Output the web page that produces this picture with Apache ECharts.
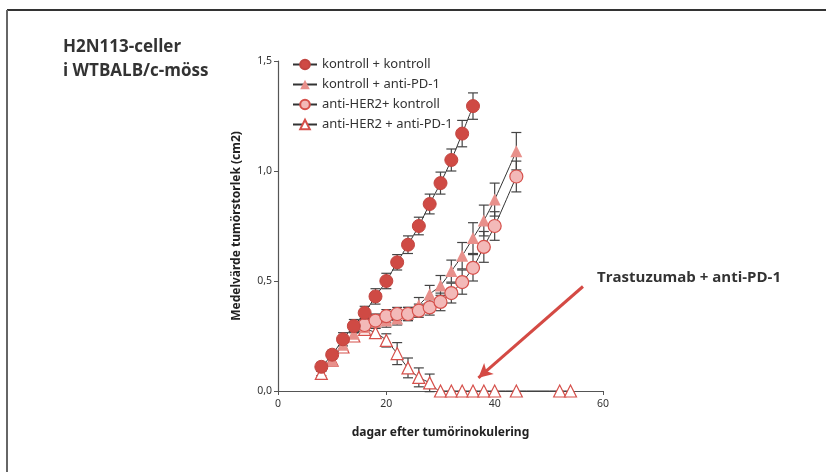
<!DOCTYPE html>
<html>
<head>
<meta charset="utf-8">
<script src="https://cdn.jsdelivr.net/npm/echarts@6/dist/echarts.min.js"></script>
<style>
    html, body { margin: 0; padding: 0; background: #fff; }
    #chart { width: 826px; height: 472px; }
</style>
</head>
<body>
<div id="chart"></div>
<script>
    // kontroll + kontroll
    var daysKK = [8, 10, 12, 14, 16, 18, 20, 22, 24, 26, 28, 30, 32, 34, 36];
    var valKK = [0.11, 0.165, 0.235, 0.295, 0.355, 0.43, 0.50, 0.585, 0.665, 0.75, 0.85, 0.945, 1.05, 1.17, 1.295];
    var errKK = [0.02, 0.02, 0.03, 0.03, 0.03, 0.035, 0.035, 0.035, 0.04, 0.04, 0.045, 0.05, 0.05, 0.06, 0.06];

    // kontroll + anti-PD-1
    var daysKP = [10, 12, 14, 16, 18, 20, 22, 24, 26, 28, 30, 32, 34, 36, 38, 40, 44];
    var valKP = [0.14, 0.21, 0.26, 0.29, 0.315, 0.32, 0.33, 0.35, 0.39, 0.44, 0.48, 0.545, 0.615, 0.695, 0.775, 0.87, 1.09];
    var errKP = [0.02, 0.02, 0.03, 0.03, 0.03, 0.03, 0.03, 0.03, 0.035, 0.04, 0.045, 0.05, 0.06, 0.07, 0.07, 0.075, 0.085];

    // anti-HER2 + kontroll
    var daysHK = [16, 18, 20, 22, 24, 26, 28, 30, 32, 34, 36, 38, 40, 44];
    var valHK = [0.30, 0.32, 0.34, 0.35, 0.35, 0.365, 0.38, 0.405, 0.445, 0.495, 0.56, 0.655, 0.75, 0.975];
    var errHK = [0.03, 0.03, 0.03, 0.03, 0.03, 0.03, 0.035, 0.04, 0.045, 0.055, 0.06, 0.07, 0.065, 0.07];

    // anti-HER2 + anti-PD-1
    var daysHP = [8, 10, 12, 14, 16, 18, 20, 22, 24, 26, 28, 30, 32, 34, 36, 38, 40, 44, 52, 54];
    var valHP = [0.08, 0.14, 0.2, 0.25, 0.28, 0.265, 0.23, 0.17, 0.105, 0.062, 0.037, 0, 0, 0, 0, 0, 0, 0, 0, 0];
    var errHP = [0.01, 0.02, 0.02, 0.02, 0.02, 0.02, 0.03, 0.05, 0.045, 0.043, 0.04, 0, 0, 0, 0, 0, 0, 0, 0, 0];

    var seriesNames = ['kontroll + kontroll', 'kontroll + anti-PD-1', 'anti-HER2+ kontroll', 'anti-HER2 + anti-PD-1'];
    var xTicks = [0, 20, 40, 60];
    var yTicks = [0, 0.5, 1.0, 1.5];

    var red = '#cf4a44';
    var pinkTri = '#e8908b';
    var pinkFill = '#f3b9b8';
    var border = '#d6504b';

    function pairs(days, vals) {
        return days.map(function (d, i) { return [d, vals[i]]; });
    }
    function errData(days, vals, errs) {
        var out = [];
        days.forEach(function (d, i) {
            if (errs[i] > 0) out.push([d, vals[i] - errs[i], vals[i] + errs[i]]);
        });
        return out;
    }

    function errSeries(data) {
        return {
            type: 'custom',
            z: 1,
            silent: true,
            data: data,
            renderItem: function (params, api) {
                var top = api.coord([api.value(0), api.value(2)]);
                var bot = api.coord([api.value(0), api.value(1)]);
                var w = 5;
                var style = { stroke: '#444', lineWidth: 1.2 };
                return {
                    type: 'group',
                    children: [
                        { type: 'line', shape: { x1: top[0], y1: top[1], x2: bot[0], y2: bot[1] }, style: style },
                        { type: 'line', shape: { x1: top[0] - w, y1: top[1], x2: top[0] + w, y2: top[1] }, style: style },
                        { type: 'line', shape: { x1: bot[0] - w, y1: bot[1], x2: bot[0] + w, y2: bot[1] }, style: style }
                    ]
                };
            }
        };
    }

    function lineSeries(name, data, symbol, size, fill, stroke, bw, z) {
        return {
            name: name,
            type: 'line',
            data: data,
            smooth: 0.3,
            z: z,
            symbol: symbol,
            symbolSize: size,
            showAllSymbol: true,
            lineStyle: { color: '#333', width: 1 },
            itemStyle: { color: fill, borderColor: stroke, borderWidth: bw, opacity: 1 },
            emphasis: { disabled: true }
        };
    }

    var hpLine = lineSeries(seriesNames[3], pairs(daysHP, valHP), 'triangle', 12, '#fff', border, 1.2, 3);
    hpLine.clip = false;
    hpLine.markLine = {
        silent: true,
        symbol: ['none', 'arrow'],
        symbolSize: [11, 14],
        label: { show: false },
        lineStyle: { color: '#d44a44', width: 3, type: 'solid' },
        data: [[{ coord: [56.3, 0.475] }, { coord: [37, 0.06] }]]
    };

    var chart = echarts.init(document.getElementById('chart'));
    chart.setOption({
        animation: false,
        textStyle: { fontFamily: 'Noto Sans' },
        grid: { left: 278, right: 223, top: 61, bottom: 81 },
        legend: {
            data: seriesNames,
            orient: 'vertical',
            left: 287,
            top: 53,
            itemWidth: 24,
            itemHeight: 12,
            itemGap: 7,
            textStyle: { fontSize: 13, color: '#333', fontFamily: 'Noto Sans' }
        },
        xAxis: {
            type: 'value',
            min: xTicks[0],
            max: xTicks[xTicks.length - 1],
            interval: 20,
            name: 'dagar efter tumörinokulering',
            nameLocation: 'middle',
            nameGap: 36,
            nameTextStyle: { fontWeight: 'bold', fontSize: 12, color: '#222' },
            splitLine: { show: false },
            axisLine: { lineStyle: { color: '#555', width: 1.2 } },
            axisTick: { length: 4, lineStyle: { color: '#555' } },
            axisLabel: { fontSize: 10.5, color: '#333', margin: 8 }
        },
        yAxis: {
            type: 'value',
            min: yTicks[0],
            max: yTicks[yTicks.length - 1],
            interval: 0.5,
            name: 'Medelvärde tumörstorlek (cm2)',
            nameLocation: 'middle',
            nameGap: 35,
            nameTextStyle: { fontWeight: 'bold', fontSize: 12, color: '#222' },
            splitLine: { show: false },
            axisLine: { show: true, lineStyle: { color: '#555', width: 1.2 } },
            axisTick: { show: true, length: 4, lineStyle: { color: '#555' } },
            axisLabel: {
                fontSize: 10.5, color: '#333', margin: 6,
                formatter: function (v) { return v.toFixed(1).replace('.', ','); }
            }
        },
        graphic: [
            { type: 'line', shape: { x1: 7, y1: 10, x2: 826, y2: 10 }, style: { stroke: '#333', lineWidth: 2 } },
            { type: 'line', shape: { x1: 7, y1: 10, x2: 7, y2: 472 }, style: { stroke: '#666', lineWidth: 2 } },
            {
                type: 'text', left: 63, top: 35,
                style: { text: 'H2N113-celler\ni WTBALB/c-möss', font: 'bold 17px "Open Sans"', fill: '#333', lineHeight: 24 }
            },
            {
                type: 'text', left: 597, top: 270,
                style: { text: 'Trastuzumab + anti-PD-1', font: 'bold 15px "Open Sans"', fill: '#333' }
            }
        ],
        series: [
            errSeries(errData(daysKK, valKK, errKK)),
            errSeries(errData(daysKP, valKP, errKP)),
            errSeries(errData(daysHK, valHK, errHK)),
            errSeries(errData(daysHP, valHP, errHP)),
            hpLine,
            lineSeries(seriesNames[1], pairs(daysKP, valKP), 'triangle', 12, pinkTri, pinkTri, 0, 4),
            lineSeries(seriesNames[2], pairs(daysHK, valHK), 'circle', 13, pinkFill, border, 1.2, 5),
            lineSeries(seriesNames[0], pairs(daysKK, valKK), 'circle', 13, red, '#c24540', 1, 6)
        ]
    });
</script>
</body>
</html>
